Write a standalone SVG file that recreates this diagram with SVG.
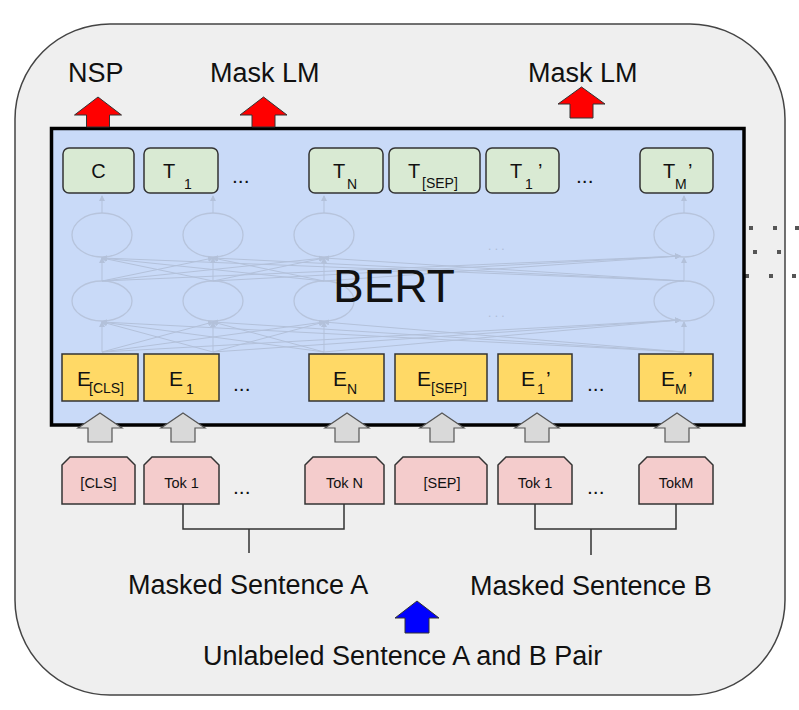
<svg xmlns="http://www.w3.org/2000/svg" width="799" height="710" viewBox="0 0 799 710">
<style>
.lbl{font-family:"Liberation Sans",Arial,sans-serif;fill:#111}
.big{font-size:27px}
.t{font-size:20px}
.e{font-size:21px}
.sub{font-size:14px}
.tk{font-size:14.5px;text-anchor:middle}
.dots{font-size:21px}
.tbox{fill:#d9ead3;stroke:#333;stroke-width:1.5}
.ebox{fill:#ffd966;stroke:#333;stroke-width:1.5}
.tok{fill:#f4cccc;stroke:#333;stroke-width:1.5}
.garrow{fill:#d9d9d9;stroke:#555;stroke-width:1.2}
.rarrow{fill:#ff0000;stroke:#333;stroke-width:1}
.barrow{fill:#0000ff;stroke:#333;stroke-width:1}
.net line{stroke:#b3c1da;stroke-width:1;marker-end:url(#fa)}
.net ellipse{fill:none;stroke:#b7c4dc;stroke-width:1.3}
.br{fill:none;stroke:#333;stroke-width:1.5}
</style>
<defs>
<marker id="fa" markerWidth="6" markerHeight="6" refX="5" refY="3" orient="auto" markerUnits="userSpaceOnUse">
<path d="M0,0 L6,3 L0,6 Z" fill="#b3c1da"/>
</marker>
</defs>

<rect width="799" height="710" fill="#ffffff"/>
<rect id="outer" x="15" y="24" width="770" height="671" rx="95" ry="95" fill="#efefef" stroke="#444" stroke-width="1.5"/>

<g id="sidedots" fill="#555">
<rect x="749" y="226" width="4" height="4"/><rect x="773" y="226" width="4" height="4"/><rect x="795" y="226" width="4" height="4"/>
<rect x="753" y="250" width="4" height="4"/><rect x="777" y="250" width="4" height="4"/>
<rect x="745" y="274" width="4" height="4"/><rect x="769" y="274" width="4" height="4"/><rect x="792" y="274" width="4" height="4"/>
</g>

<g id="bert">
<rect x="51.5" y="128.5" width="692.5" height="296.5" fill="#c9daf8" stroke="#000" stroke-width="3.5"/>
</g>

<g id="network" class="net">
<ellipse cx="102" cy="235" rx="30" ry="22"/><ellipse cx="213" cy="235" rx="30" ry="22"/><ellipse cx="324" cy="235" rx="30" ry="22"/><ellipse cx="684" cy="235" rx="30" ry="22"/>
<ellipse cx="102" cy="301" rx="30" ry="20"/><ellipse cx="213" cy="301" rx="30" ry="20"/><ellipse cx="324" cy="301" rx="30" ry="20"/><ellipse cx="684" cy="301" rx="30" ry="20"/>
<line x1="102" y1="213" x2="102" y2="196"/><line x1="213" y1="213" x2="213" y2="196"/><line x1="324" y1="213" x2="324" y2="196"/><line x1="684" y1="213" x2="684" y2="196"/>
<line x1="102" y1="281" x2="102" y2="258"/><line x1="213" y1="281" x2="102" y2="258"/><line x1="324" y1="281" x2="102" y2="258"/><line x1="684" y1="281" x2="102" y2="258"/>
<line x1="102" y1="281" x2="213" y2="258"/><line x1="213" y1="281" x2="213" y2="258"/><line x1="324" y1="281" x2="213" y2="258"/><line x1="684" y1="281" x2="213" y2="258"/>
<line x1="102" y1="281" x2="324" y2="258"/><line x1="213" y1="281" x2="324" y2="258"/><line x1="324" y1="281" x2="324" y2="258"/><line x1="684" y1="281" x2="324" y2="258"/>
<line x1="102" y1="281" x2="680" y2="256"/><line x1="213" y1="281" x2="680" y2="256"/><line x1="324" y1="281" x2="680" y2="256"/><line x1="684" y1="281" x2="684" y2="258"/>
<line x1="102" y1="352" x2="102" y2="322"/><line x1="213" y1="352" x2="102" y2="322"/><line x1="324" y1="352" x2="102" y2="322"/><line x1="684" y1="352" x2="102" y2="322"/>
<line x1="102" y1="352" x2="213" y2="322"/><line x1="213" y1="352" x2="213" y2="322"/><line x1="324" y1="352" x2="213" y2="322"/><line x1="684" y1="352" x2="213" y2="322"/>
<line x1="102" y1="352" x2="324" y2="322"/><line x1="213" y1="352" x2="324" y2="322"/><line x1="324" y1="352" x2="324" y2="322"/><line x1="684" y1="352" x2="324" y2="322"/>
<line x1="102" y1="352" x2="680" y2="320"/><line x1="213" y1="352" x2="680" y2="320"/><line x1="324" y1="352" x2="680" y2="320"/><line x1="684" y1="352" x2="684" y2="322"/>
<text x="488" y="250" font-family="Liberation Sans,sans-serif" font-size="12" fill="#aebcd6">. . .</text>
<text x="488" y="317" font-family="Liberation Sans,sans-serif" font-size="12" fill="#aebcd6">. . .</text>
</g>

<text id="bert-label" class="lbl" x="333" y="302" font-size="46">BERT</text>

<g id="outputs">
<g id="t-c"><rect class="tbox" x="63" y="148" width="71" height="45" rx="6"/><text class="lbl t" x="98.5" y="178" text-anchor="middle">C</text></g>
<g id="t-1"><rect class="tbox" x="144" y="148" width="74" height="45" rx="6"/><text class="lbl t" y="178"><tspan x="163">T</tspan><tspan class="sub" x="184" y="189">1</tspan></text></g>
<g id="t-n"><rect class="tbox" x="309" y="148" width="74" height="45" rx="6"/><text class="lbl t" y="178"><tspan x="333">T</tspan><tspan class="sub" x="347" y="189">N</tspan></text></g>
<g id="t-sep"><rect class="tbox" x="389" y="148" width="91" height="45" rx="6"/><text class="lbl t" y="178"><tspan x="408">T</tspan><tspan class="sub" x="422" y="188">[SEP]</tspan></text></g>
<g id="t-1b"><rect class="tbox" x="486" y="148" width="73" height="45" rx="6"/><text class="lbl t" y="178"><tspan x="510">T</tspan><tspan class="sub" x="525" y="189">1</tspan><tspan x="538" y="178">’</tspan></text></g>
<g id="t-m"><rect class="tbox" x="640" y="148" width="73" height="45" rx="6"/><text class="lbl t" y="178"><tspan x="663">T</tspan><tspan class="sub" x="675" y="189">M</tspan><tspan x="688" y="178">’</tspan></text></g>
<text class="lbl dots" x="232" y="183">...</text>
<text class="lbl dots" x="576" y="183">...</text>
</g>

<g id="embeddings">
<g id="e-cls"><rect class="ebox" x="62" y="354" width="76" height="47"/><text class="lbl e" y="386"><tspan x="77">E</tspan><tspan class="sub" x="89" y="393">[CLS]</tspan></text></g>
<g id="e-1"><rect class="ebox" x="144" y="354" width="75" height="47"/><text class="lbl e" y="386"><tspan x="169">E</tspan><tspan class="sub" x="186" y="394">1</tspan></text></g>
<g id="e-n"><rect class="ebox" x="309" y="354" width="75" height="47"/><text class="lbl e" y="386"><tspan x="333">E</tspan><tspan class="sub" x="347" y="394">N</tspan></text></g>
<g id="e-sep"><rect class="ebox" x="395" y="354" width="92" height="47"/><text class="lbl e" y="386"><tspan x="417">E</tspan><tspan class="sub" x="431" y="393">[SEP]</tspan></text></g>
<g id="e-1b"><rect class="ebox" x="498" y="354" width="74" height="47"/><text class="lbl e" y="386"><tspan x="521">E</tspan><tspan class="sub" x="537" y="394">1</tspan><tspan x="546" y="386">’</tspan></text></g>
<g id="e-m"><rect class="ebox" x="639" y="354" width="74" height="47"/><text class="lbl e" y="386"><tspan x="661">E</tspan><tspan class="sub" x="675" y="394">M</tspan><tspan x="688" y="386">’</tspan></text></g>
<text class="lbl dots" x="233" y="391">...</text>
<text class="lbl dots" x="587" y="391">...</text>
</g>

<g id="tokens">
<g id="tok-cls"><path class="tok" d="M62,465 L70,457 L127,457 L135,465 L135,504 L62,504 Z"/><text class="lbl tk" x="98.5" y="488">[CLS]</text></g>
<g id="tok-1"><path class="tok" d="M144,465 L152,457 L211,457 L219,465 L219,504 L144,504 Z"/><text class="lbl tk" x="181.5" y="488">Tok 1</text></g>
<g id="tok-n"><path class="tok" d="M305,465 L313,457 L376,457 L384,465 L384,504 L305,504 Z"/><text class="lbl tk" x="344.5" y="488">Tok N</text></g>
<g id="tok-sep"><path class="tok" d="M395,465 L403,457 L479,457 L487,465 L487,504 L395,504 Z"/><text class="lbl tk" x="442" y="488">[SEP]</text></g>
<g id="tok-1b"><path class="tok" d="M498,465 L506,457 L564,457 L572,465 L572,504 L498,504 Z"/><text class="lbl tk" x="535" y="488">Tok 1</text></g>
<g id="tok-m"><path class="tok" d="M639,465 L647,457 L705,457 L713,465 L713,504 L639,504 Z"/><text class="lbl tk" x="676" y="488">TokM</text></g>
<text class="lbl dots" x="233" y="494">...</text>
<text class="lbl dots" x="587" y="494">...</text>
</g>

<g id="connectors">
<path class="garrow" d="M100,413 L122,428 L112,428 L112,442 L88,442 L88,428 L78,428 Z"/>
<path class="garrow" d="M183,413 L205,428 L195,428 L195,442 L171,442 L171,428 L161,428 Z"/>
<path class="garrow" d="M347,413 L369,428 L359,428 L359,442 L335,442 L335,428 L325,428 Z"/>
<path class="garrow" d="M442,413 L464,428 L454,428 L454,442 L430,442 L430,428 L420,428 Z"/>
<path class="garrow" d="M537,413 L559,428 L549,428 L549,442 L525,442 L525,428 L515,428 Z"/>
<path class="garrow" d="M677,413 L699,428 L689,428 L689,442 L665,442 L665,428 L655,428 Z"/>
<path class="rarrow" d="M98,97 L121.5,115 L109.5,115 L109.5,127 L86.5,127 L86.5,115 L74.5,115 Z"/>
<path class="rarrow" d="M263.5,97 L287,115 L275,115 L275,127 L252,127 L252,115 L240,115 Z"/>
<path class="rarrow" d="M581.5,87 L605,104 L593,104 L593,118 L570,118 L570,104 L558,104 Z"/>
<path class="barrow" d="M417,601 L439,618 L429,618 L429,633 L405,633 L405,618 L395,618 Z"/>
<path class="br" d="M183,504 V529 H344 V504 M249,529 V553"/>
<path class="br" d="M535,504 V529 H676 V504 M591,529 V555"/>
</g>

<g id="labels">
<text class="lbl big" x="68" y="82">NSP</text>
<text class="lbl big" x="210" y="82">Mask LM</text>
<text class="lbl big" x="528" y="82">Mask LM</text>
<text class="lbl big" x="128" y="594">Masked Sentence A</text>
<text class="lbl big" x="470" y="595">Masked Sentence B</text>
<text class="lbl big" x="203" y="665">Unlabeled Sentence A and B Pair</text>
</g>
</svg>
